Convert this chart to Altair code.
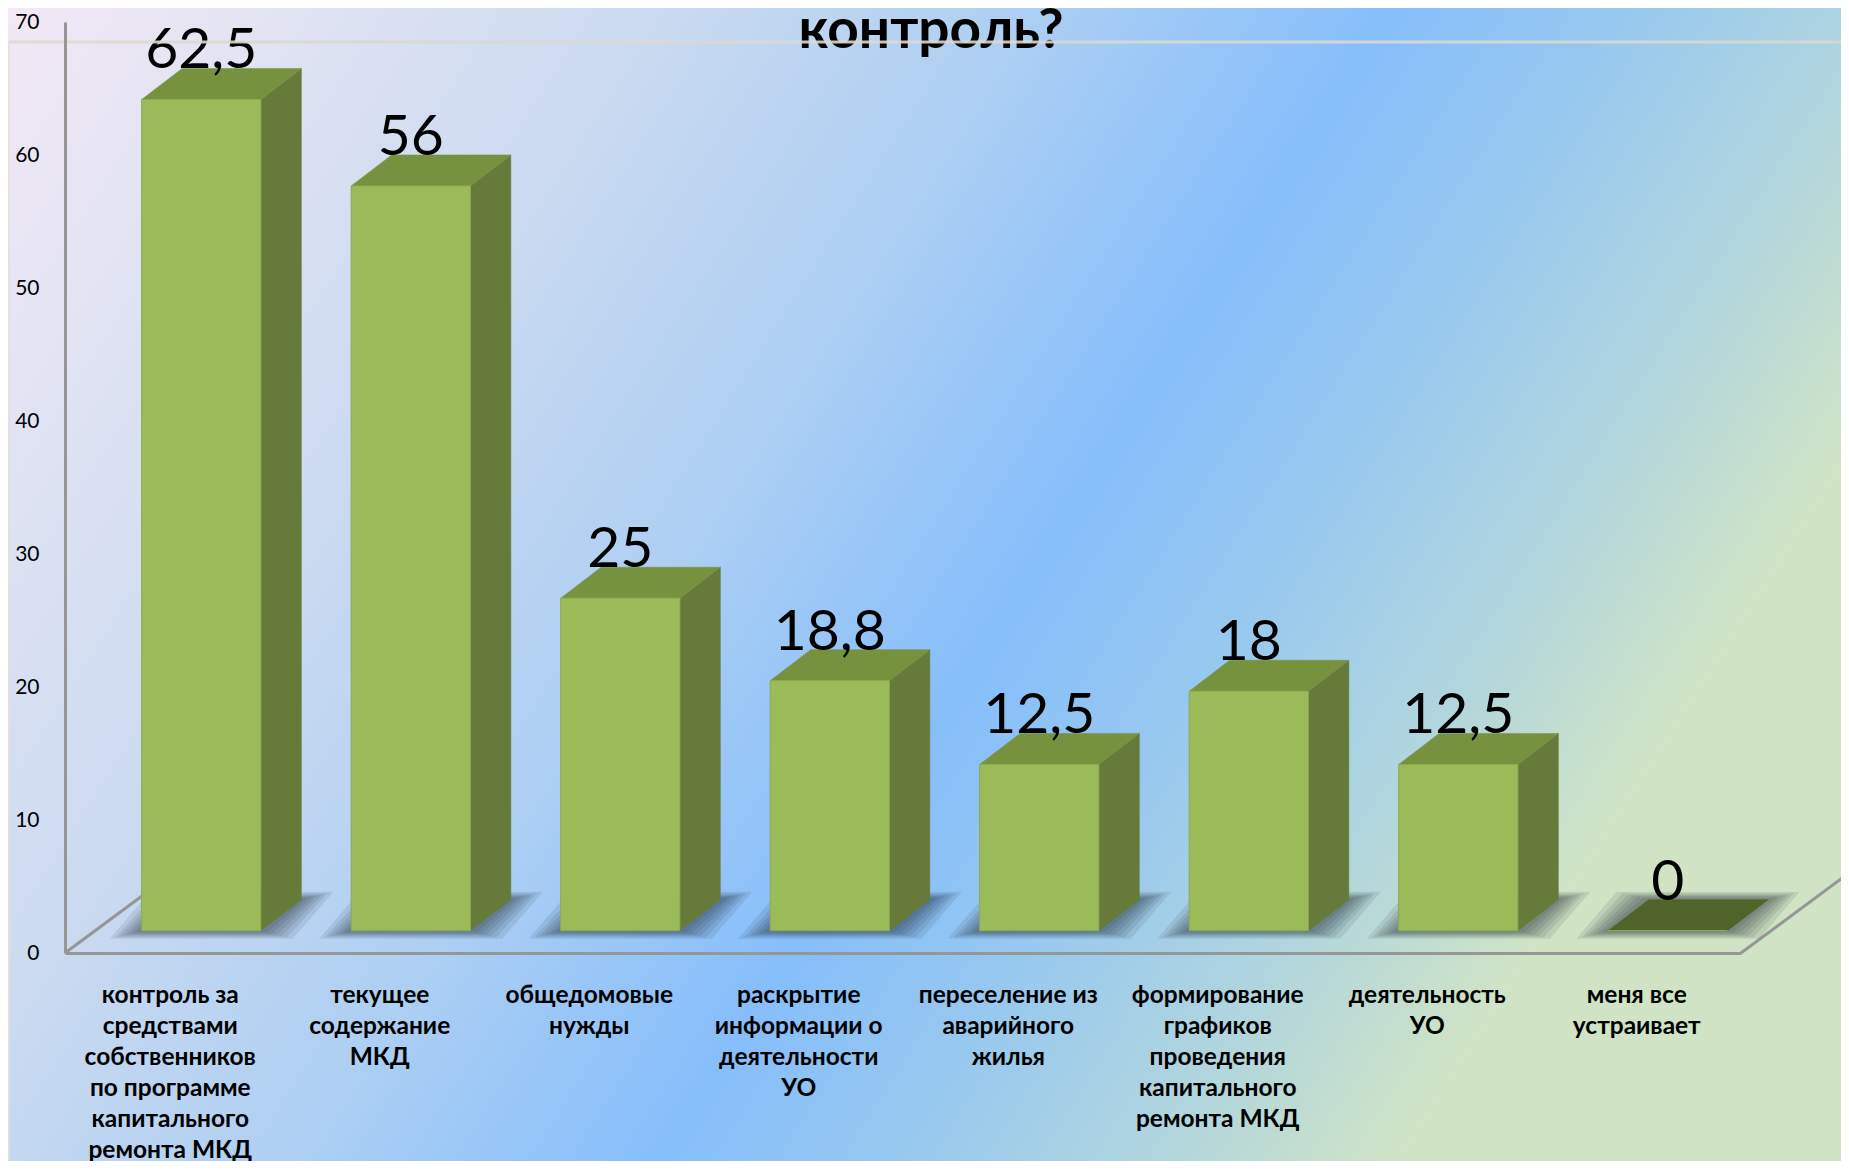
import json
import altair as alt
import pandas as pd

# ---------------- data ----------------
categories = [
    "контроль за средствами собственников по программе капитального ремонта МКД",
    "текущее содержание МКД",
    "общедомовые нужды",
    "раскрытие информации о деятельности УО",
    "переселение из аварийного жилья",
    "формирование графиков проведения капитального ремонта МКД",
    "деятельность УО",
    "меня все устраивает",
]
label_lines = [
    ["контроль за", "средствами", "собственников", "по программе", "капитального", "ремонта МКД"],
    ["текущее", "содержание", "МКД"],
    ["общедомовые", "нужды"],
    ["раскрытие", "информации о", "деятельности", "УО"],
    ["переселение из", "аварийного", "жилья"],
    ["формирование", "графиков", "проведения", "капитального", "ремонта МКД"],
    ["деятельность", "УО"],
    ["меня все", "устраивает"],
]
values = [62.5, 56, 25, 18.8, 12.5, 18, 12.5, 0]
value_labels = ["62,5", "56", "25", "18,8", "12,5", "18", "12,5", "0"]
y_ticks = [0, 10, 20, 30, 40, 50, 60, 70]
title_text = "контроль?"

# ---------------- layout / style ----------------
W, H = 1676, 931
PAD = {"left": 57, "top": 14, "right": 100, "bottom": 208}
XMIN, XMAX, YMAX = -0.5, 7.5, 70
PX_X = W / (XMAX - XMIN)
PX_Y = H / YMAX
HALF = 59.6 / PX_X      # half width of a bar's front face
SX = 31.5 / PX_X        # bars stand in the middle of the floor depth
SY = 22.3 / PX_Y
DX = 40.5 / PX_X        # bar depth
DY = 31.0 / PX_Y
FDX = 104 / PX_X        # floor depth
FDY = 77 / PX_Y

FRONT = "#9BBB59"
SIDE = "#667B39"
TOP = "#77923E"
TOP_ZERO = "#506328"
GRAY = "#969696"
FONT = "Lato"

xs = alt.Scale(domain=[XMIN, XMAX], nice=False, zero=False)
ys = alt.Scale(domain=[0, YMAX], nice=False, zero=False)

n = len(values)
label_expr = json.dumps(label_lines, ensure_ascii=False) + "[datum.value]"

X_AXIS = alt.Axis(
    values=list(range(n)), labelExpr=label_expr, title=None,
    ticks=False, tickSize=0, grid=False,
    domainColor=GRAY, domainWidth=3,
    labelFont=FONT, labelFontSize=24.5, labelFontWeight="bold", labelColor="black",
    labelLineHeight=31, labelBaseline="top", labelPadding=30, labelAlign="center",
    labelLimit=400, labelOverlap=False, labelFlush=False, labelBound=False, zindex=1,
)
Y_AXIS = alt.Axis(
    values=y_ticks, title=None, ticks=False, tickSize=0, grid=False,
    domainColor=GRAY, domainWidth=3,
    labelFont=FONT, labelFontSize=21, labelColor="black", labelPadding=26,
    labelFlush=False, labelBound=False, zindex=1,
)

bars = pd.DataFrame({"i": list(range(n)), "v": values, "lab": value_labels})
bars["xl"] = bars["i"] - HALF + SX
bars["xr"] = bars["i"] + HALF + SX
bars["yb"] = SY
bars["yt"] = bars["v"] + SY
bars["xc"] = bars["i"] + SX
bars["ylab"] = bars["v"] + SY + DY

side_rows, top_rows, shadow_rows = [], [], []
for r in bars.itertuples():
    side_rows.append({"i": r.i, "v": r.v, "x": r.xr, "lo": r.yb, "hi": r.yt})
    side_rows.append({"i": r.i, "v": r.v, "x": r.xr + DX, "lo": r.yb + DY, "hi": r.yt + DY})
    t0, t1 = r.yt, r.yt + DY
    top_rows += [
        {"i": r.i, "v": r.v, "x": r.xl, "lo": t0, "hi": t0},
        {"i": r.i, "v": r.v, "x": r.xl + DX, "lo": t0, "hi": t1},
        {"i": r.i, "v": r.v, "x": r.xr, "lo": t0, "hi": t1},
        {"i": r.i, "v": r.v, "x": r.xr + DX, "lo": t1, "hi": t1},
    ]
    for lvl, (ex, ey) in enumerate([(32, 8), (26, 6.5), (21, 5), (16, 4), (11, 3), (6, 1.5)]):
        ex, ey = ex / PX_X, ey / PX_Y
        a, b = r.xl - ex, r.xr + ex
        lo, hi = r.yb - ey, r.yb + DY + ey
        g = f"{r.i}_{lvl}"
        shadow_rows += [
            {"g": g, "x": a, "lo": lo, "hi": lo},
            {"g": g, "x": a + DX, "lo": lo, "hi": hi},
            {"g": g, "x": b, "lo": lo, "hi": hi},
            {"g": g, "x": b + DX, "lo": hi, "hi": hi},
        ]
side = pd.DataFrame(side_rows)
top = pd.DataFrame(top_rows)
shadow = pd.DataFrame(shadow_rows)

floor = pd.DataFrame({
    "x": [XMIN, XMAX],
    "y": [0, 0],
    "x2": [XMIN + FDX, XMAX + FDX],
    "y2": [FDY, FDY],
})
one = pd.DataFrame({"t": [title_text]})

# ---------------- layers ----------------
gradient = alt.LinearGradient(
    gradient="linear",
    x1=0, y1=0, x2=1, y2=0.4,
    stops=[
        alt.GradientStop(color="#F3E8F5", offset=0.0),
        alt.GradientStop(color="#E0E3F3", offset=0.14),
        alt.GradientStop(color="#CBDAF0", offset=0.3),
        alt.GradientStop(color="#ADCFF3", offset=0.48),
        alt.GradientStop(color="#86BEFB", offset=0.65),
        alt.GradientStop(color="#97C8EF", offset=0.76),
        alt.GradientStop(color="#B0D5DF", offset=0.88),
        alt.GradientStop(color="#D0E4C5", offset=1.0),
    ],
)

background = alt.Chart(one).mark_rect(fill=gradient, stroke=None).encode(
    x=alt.value(-PAD["left"]), x2=alt.value(W + PAD["right"]),
    y=alt.value(-PAD["top"]), y2=alt.value(H + PAD["bottom"]),
)

faint_v = alt.Chart(one).mark_rule(color="#E4E0DA", strokeWidth=2, opacity=0.8).encode(
    x=alt.value(-56), y=alt.value(20), y2=alt.value(H + PAD["bottom"]),
)

floor_lines = alt.Chart(floor).mark_rule(color=GRAY, strokeWidth=3).encode(
    x=alt.X("x:Q", scale=xs, axis=X_AXIS),
    y=alt.Y("y:Q", scale=ys, axis=Y_AXIS),
    x2="x2:Q", y2="y2:Q",
)

shadows = alt.Chart(shadow).mark_area(orient="vertical", color="#1E2633", opacity=0.1).encode(
    x=alt.X("x:Q", scale=xs, axis=X_AXIS),
    y=alt.Y("lo:Q", scale=ys, axis=Y_AXIS),
    y2="hi:Q",
    detail="g:N",
)

sides = alt.Chart(side).mark_area(orient="vertical", color=SIDE, stroke=SIDE, strokeWidth=0.5).encode(
    x=alt.X("x:Q", scale=xs, axis=X_AXIS),
    y=alt.Y("lo:Q", scale=ys, axis=Y_AXIS),
    y2="hi:Q",
    detail="i:N",
)

tops = alt.Chart(top).mark_area(orient="vertical", strokeWidth=0.5).encode(
    x=alt.X("x:Q", scale=xs, axis=X_AXIS),
    y=alt.Y("lo:Q", scale=ys, axis=Y_AXIS),
    y2="hi:Q",
    detail="i:N",
    color=alt.condition("datum.v == 0", alt.value(TOP_ZERO), alt.value(TOP)),
    stroke=alt.condition("datum.v == 0", alt.value(TOP_ZERO), alt.value(TOP)),
)

fronts = alt.Chart(bars).mark_bar(color=FRONT, stroke="#8DAA50", strokeWidth=1).encode(
    x=alt.X("xl:Q", scale=xs, axis=X_AXIS),
    x2="xr:Q",
    y=alt.Y("yb:Q", scale=ys, axis=Y_AXIS),
    y2="yt:Q",
)

value_text = alt.Chart(bars).mark_text(
    font=FONT, fontSize=57, color="black", baseline="alphabetic", align="center"
).encode(
    x=alt.X("xc:Q", scale=xs, axis=X_AXIS),
    y=alt.Y("ylab:Q", scale=ys, axis=Y_AXIS),
    text="lab:N",
)

title = alt.Chart(one).mark_text(
    font=FONT, fontSize=55, fontWeight="bold", color="black", baseline="alphabetic", align="center"
).encode(x=alt.value(866), y=alt.value(26), text="t:N")

faint_h = alt.Chart(one).mark_rule(color="#DCD8D0", strokeWidth=3, opacity=0.9).encode(
    x=alt.value(-56), x2=alt.value(W + PAD["right"]), y=alt.value(20),
)

chart = alt.layer(
    background, faint_v, floor_lines, shadows, sides, tops, fronts, value_text, title, faint_h
).properties(
    width=W, height=H, padding=PAD, autosize=alt.AutoSizeParams(type="none"),
).configure_view(stroke=None).configure(background="#B5D2F0")

chart.save("out.html", embed_options={"renderer": "svg", "actions": False})
